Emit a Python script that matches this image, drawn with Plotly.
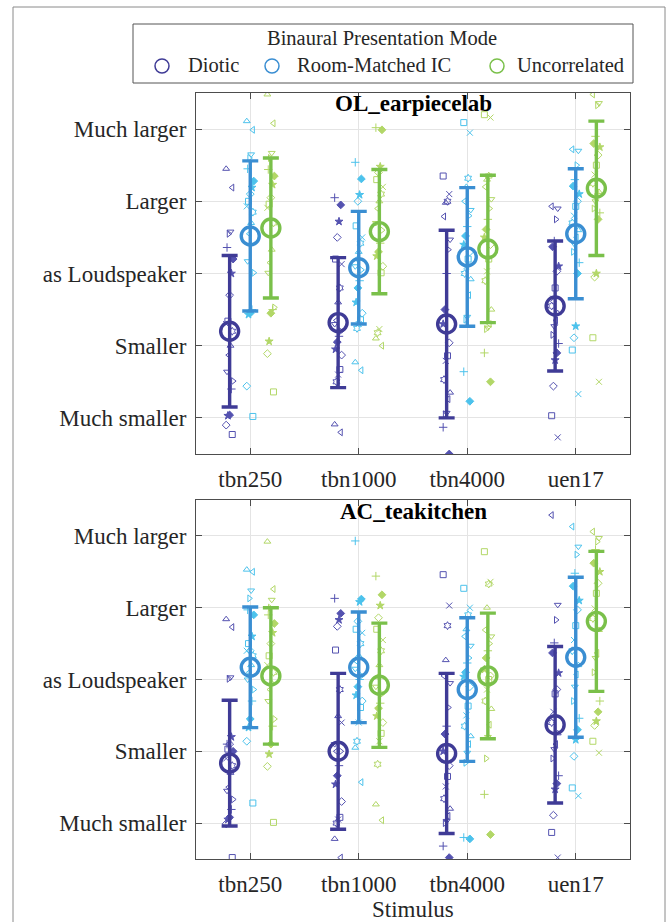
import plotly.graph_objects as go

# ---------------------------------------------------------------- data
STIMULI = ["tbn250", "tbn1000", "tbn4000", "uen17"]
MODES = ["Diotic", "Room-Matched IC", "Uncorrelated"]
ROOMS = ["OL_earpiecelab", "AC_teakitchen"]
RATING_LEVELS = [-2, -1, 0, 1, 2]
RATING_LABELS = ["Much smaller", "Smaller", "as Loudspeaker", "Larger", "Much larger"]

# group means and standard deviations (per stimulus)
mean_ol_diotic = [-0.80, -0.68, -0.70, -0.45]
sd_ol_diotic = [1.05, 0.90, 1.30, 0.90]
mean_ol_rmic = [0.52, 0.08, 0.23, 0.55]
sd_ol_rmic = [1.04, 0.78, 0.96, 0.90]
mean_ol_unc = [0.63, 0.58, 0.34, 1.18]
sd_ol_unc = [0.97, 0.86, 1.02, 0.93]

mean_ac_diotic = [-1.165, -1.00, -1.03, -0.63]
sd_ac_diotic = [0.875, 1.085, 1.115, 1.09]
mean_ac_rmic = [0.17, 0.17, -0.14, 0.31]
sd_ac_rmic = [0.84, 0.77, 1.00, 1.115]
mean_ac_unc = [0.05, -0.08, 0.05, 0.81]
sd_ac_unc = [0.95, 0.865, 0.875, 0.975]

# individual listener ratings, one list per stimulus
ol_diotic = [
    [1.45, 1.19, 0.58, 0.55, 0.36, 0.2, 0.0, -0.3, -0.66, -0.7, -0.8, -1.0, -1.13, -1.36, -1.49, -1.6, -1.96, -1.97, -2.1, -2.23],
    [1.05, 0.95, 0.72, 0.5, 0.2, 0.13, -0.2, -0.4, -0.65, -0.7, -0.8, -0.87, -0.95, -1.05, -1.13, -1.33, -1.4, -1.5, -2.09, -2.2],
    [1.35, 1.1, 1.0, 0.98, 0.79, 0.47, 0.33, 0.0, -0.5, -0.7, -0.96, -1.14, -1.21, -1.47, -1.65, -1.74, -1.93, -1.95, -2.13, -2.5],
    [0.93, 0.9, 0.75, 0.45, 0.37, 0.1, 0.03, -0.2, -0.35, -0.45, -0.55, -0.65, -0.73, -0.85, -0.97, -1.1, -1.2, -1.56, -1.97, -2.27],
]
ol_rmic = [
    [2.11, 1.99, 1.65, 1.6, 1.45, 1.28, 1.19, 1.1, 1.0, 0.93, 0.85, 0.7, 0.55, 0.17, 0.01, -0.5, -0.55, -0.57, -1.56, -1.98],
    [1.54, 1.31, 1.09, 1.0, 0.66, 0.5, 0.42, 0.3, 0.2, 0.1, 0.05, -0.1, -0.2, -0.4, -0.55, -0.64, -0.7, -0.76, -1.23, -1.34],
    [2.09, 1.95, 1.32, 1.2, 1.0, 0.88, 0.8, 0.65, 0.52, 0.4, 0.3, 0.2, 0.1, 0.0, -0.08, -0.3, -0.6, -0.64, -1.36, -1.77],
    [1.72, 1.7, 1.5, 1.3, 1.21, 1.1, 1.0, 0.93, 0.8, 0.7, 0.6, 0.5, 0.4, 0.3, 0.15, 0.0, -0.73, -0.89, -1.06, -1.67],
]
ol_unc = [
    [2.48, 2.08, 1.67, 1.6, 1.44, 1.35, 1.23, 1.05, 0.96, 0.91, 0.7, 0.33, 0.15, 0.01, -0.47, -0.5, -0.55, -0.94, -1.11, -1.64],
    [2.02, 1.99, 1.48, 1.4, 1.3, 1.2, 1.1, 1.0, 0.9, 0.7, 0.6, 0.42, 0.3, 0.24, 0.1, 0.01, -0.77, -0.82, -0.9, -1.0],
    [2.2, 2.16, 1.35, 1.3, 1.2, 1.03, 0.9, 0.75, 0.61, 0.5, 0.4, 0.2, 0.03, -0.1, -0.5, -0.7, -0.75, -0.77, -1.1, -1.5],
    [2.48, 2.36, 2.33, 1.9, 1.8, 1.75, 1.64, 1.5, 1.37, 1.25, 1.13, 1.1, 1.0, 0.9, 0.84, 0.75, 0.0, -0.05, -0.89, -1.5],
]
ac_diotic = [
    [0.84, 0.73, 0.03, 0.01, -0.9, -1.0, -0.8, -0.9, -0.97, -1.1, -1.2, -1.3, -1.5, -1.55, -1.67, -1.81, -1.92, -1.95, -2.01, -2.48],
    [1.13, 0.92, 0.83, 0.74, 0.41, -0.6, -0.14, -0.51, -1.0, -0.9, -1.0, -1.2, -1.34, -1.46, -1.7, -1.92, -1.95, -2.0, -2.22, -2.48],
    [1.46, 1.03, 0.75, 0.27, 0.05, -0.05, -0.39, -0.65, -0.76, -1.0, -1.2, -1.35, -1.49, -1.66, -1.8, -1.9, -1.97, -2.0, -2.32, -2.48],
    [2.29, 1.04, 0.83, 0.51, 0.37, 0.09, -0.14, -0.2, -0.45, -0.6, -0.75, -0.9, -0.97, -1.1, -1.34, -1.45, -1.53, -1.89, -2.13, -2.48],
]
ac_rmic = [
    [1.53, 1.5, 1.24, 1.13, 0.97, 0.9, 0.6, 0.4, 0.5, 0.4, 0.33, 0.2, 0.1, 0.0, -0.14, -0.3, -0.55, -0.67, -0.86, -1.72],
    [1.93, 1.12, 1.08, 0.81, 0.7, 0.65, 0.5, 0.33, 0.25, 0.15, 0.05, 0.0, -0.1, -0.22, -0.3, -0.39, -0.6, -0.86, -0.95, -1.43],
    [1.27, 1.0, 0.9, 0.7, 0.6, 0.47, 0.3, 0.23, 0.1, 0.04, -0.1, -0.37, -0.5, -0.65, -0.79, -0.9, -1.02, -1.16, -2.2, -2.22],
    [2.13, 1.85, 1.74, 1.48, 1.3, 1.1, 0.97, 0.75, 0.55, 0.4, 0.2, 0.07, -0.1, -0.3, -0.54, -0.7, -0.84, -1.07, -1.51, -1.62],
]
ac_unc = [
    [1.92, 1.26, 1.11, 1.0, 0.9, 0.78, 0.65, 0.5, 0.33, 0.2, 0.1, -0.05, -0.14, -0.3, -0.55, -0.65, -0.9, -1.04, -1.21, -1.99],
    [1.44, 1.18, 1.03, 0.86, 0.7, 0.55, 0.4, 0.2, 0.04, -0.1, -0.2, -0.33, -0.4, -0.51, -0.6, -0.75, -0.86, -1.18, -1.74, -1.96],
    [1.78, 1.36, 1.33, 1.0, 0.69, 0.6, 0.5, 0.4, 0.3, 0.14, 0.05, 0.0, -0.14, -0.3, -0.41, -0.63, -0.8, -1.1, -1.6, -2.16],
    [2.06, 1.97, 1.92, 1.81, 1.62, 1.5, 1.34, 1.2, 0.99, 0.85, 0.69, 0.37, 0.3, 0.1, -0.3, -0.45, -0.58, -0.64, -0.86, -1.02],
]

# ---------------------------------------------------------------- style
W, H = 668, 922
FONT = "Liberation Serif"
TXT = "#262626"
MEAN_COLORS = ["#3f3b96", "#3a8ed2", "#7ac04a"]
POINT_COLORS = ["#5452b0", "#4cc2ec", "#b2d767"]
MODE_OFFSET = [-0.19, 0.0, 0.19]
LISTENER_SYMBOLS = [
    "triangle-up-open", "cross-thin-open", "square-open", "triangle-left-open",
    "diamond", "x-thin-open", "triangle-down-open", "star", "hexagram-open",
    "triangle-right-open", "diamond-open",
]


def px(x):
    return x / W


def py(y):
    return 1 - y / H


panels = [
    (ROOMS[0], [(mean_ol_diotic, sd_ol_diotic, ol_diotic),
                (mean_ol_rmic, sd_ol_rmic, ol_rmic),
                (mean_ol_unc, sd_ol_unc, ol_unc)]),
    (ROOMS[1], [(mean_ac_diotic, sd_ac_diotic, ac_diotic),
                (mean_ac_rmic, sd_ac_rmic, ac_rmic),
                (mean_ac_unc, sd_ac_unc, ac_unc)]),
]

fig = go.Figure()

for p, (room, groups) in enumerate(panels):
    xa = "x" if p == 0 else "x2"
    ya = "y" if p == 0 else "y2"
    for m, (means, sds, ratings) in enumerate(groups):
        # individual ratings with a small fixed horizontal spread per listener
        xs, ys, syms = [], [], []
        for s, vals in enumerate(ratings):
            for i, v in enumerate(vals):
                jitter = (((i * 7) % 9) - 4) * 0.008
                xs.append(s + 1 + MODE_OFFSET[m] + jitter)
                ys.append(v)
                syms.append(LISTENER_SYMBOLS[(i * 3 + s) % len(LISTENER_SYMBOLS)])
        fig.add_trace(go.Scatter(
            x=xs, y=ys, xaxis=xa, yaxis=ya, mode="markers",
            marker=dict(symbol=syms, size=6, color=POINT_COLORS[m],
                        line=dict(color=POINT_COLORS[m], width=1)),
            showlegend=False, hoverinfo="y",
        ))
    for m, (means, sds, ratings) in enumerate(groups):
        fig.add_trace(go.Scatter(
            x=[s + 1 + MODE_OFFSET[m] for s in range(len(STIMULI))],
            y=means, xaxis=xa, yaxis=ya, mode="markers",
            name=MODES[m],
            marker=dict(symbol="circle-open", size=18, color=MEAN_COLORS[m],
                        line=dict(color=MEAN_COLORS[m], width=3.4)),
            error_y=dict(type="data", array=sds, symmetric=True,
                         color=MEAN_COLORS[m], thickness=3.4, width=8),
            showlegend=False,
        ))

axis_common = dict(
    showline=True, linecolor="#4d4d4d", linewidth=1, mirror="ticks",
    ticks="inside", ticklen=6, tickcolor="#4d4d4d", tickwidth=1,
    showgrid=True, gridcolor="#e4e4e4", gridwidth=1, zeroline=False,
    tickfont=dict(family=FONT, size=23, color=TXT),
)
xcommon = dict(axis_common, range=[0.5, 4.5], tickmode="array",
               tickvals=[1, 2, 3, 4], ticktext=STIMULI,
               domain=[px(196), px(630)], ticklabelstandoff=4)
ycommon = dict(axis_common, range=[-2.5, 2.5], tickmode="array",
               tickvals=RATING_LEVELS, ticktext=RATING_LABELS,
               ticklabelstandoff=4)

fig.update_layout(
    width=W, height=H, margin=dict(l=0, r=0, t=0, b=0),
    paper_bgcolor="white", plot_bgcolor="white", showlegend=False,
    xaxis=dict(xcommon, anchor="y"),
    yaxis=dict(ycommon, anchor="x", domain=[py(454), py(93)]),
    xaxis2=dict(xcommon, anchor="y2"),
    yaxis2=dict(ycommon, anchor="x2", domain=[py(859), py(500)]),
)

# panel titles and the x-axis title
annotations = [
    dict(text="<b>" + ROOMS[0] + "</b>", x=px(413), y=py(103)),
    dict(text="<b>" + ROOMS[1] + "</b>", x=px(413), y=py(511)),
]
annotations = [dict(a, xref="paper", yref="paper", showarrow=False,
                    xanchor="center", yanchor="middle",
                    font=dict(family=FONT, size=23, color="black"))
               for a in annotations]
annotations.append(dict(text="Stimulus", x=px(413), y=py(909), xref="paper", yref="paper",
                        showarrow=False, xanchor="center", yanchor="middle",
                        font=dict(family=FONT, size=23, color=TXT)))

# legend block
annotations.append(dict(text="Binaural Presentation Mode", x=px(382), y=py(38),
                        xref="paper", yref="paper", showarrow=False,
                        xanchor="center", yanchor="middle",
                        font=dict(family=FONT, size=20.5, color=TXT)))
legend_marker_x = [162, 272, 497]
legend_text_x = [186, 295, 515]
for m, name in enumerate(MODES):
    annotations.append(dict(text=name, x=px(legend_text_x[m]), y=py(65),
                            xref="paper", yref="paper", showarrow=False,
                            xanchor="left", yanchor="middle",
                            font=dict(family=FONT, size=20.5, color=TXT)))

shapes = [
    # outer figure frame
    dict(type="rect", xref="paper", yref="paper", x0=px(13), x1=px(665),
         y0=py(940), y1=py(7), line=dict(color="#8a8a8a", width=1), layer="below"),
    # legend box
    dict(type="rect", xref="paper", yref="paper", x0=px(133), x1=px(633),
         y0=py(83), y1=py(24), line=dict(color="#555555", width=1),
         fillcolor="white", layer="above"),
]
for m in range(len(MODES)):
    shapes.append(dict(type="circle", xref="paper", yref="paper",
                       xsizemode="pixel", ysizemode="pixel",
                       xanchor=px(legend_marker_x[m]), yanchor=py(66),
                       x0=-7, x1=7, y0=-7, y1=7,
                       line=dict(color=MEAN_COLORS[m], width=1.5)))

fig.update_layout(annotations=annotations, shapes=shapes)

fig.write_html("out.html")
